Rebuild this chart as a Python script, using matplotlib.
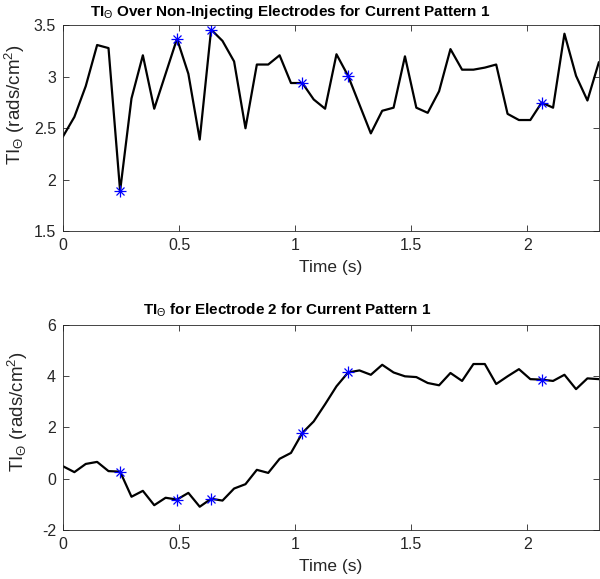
import matplotlib
matplotlib.use("Agg")
import matplotlib.pyplot as plt

plt.rcParams['font.family'] = ['Liberation Sans', 'DejaVu Sans']
plt.rcParams['mathtext.fontset'] = 'custom'
plt.rcParams['mathtext.rm'] = 'Liberation Sans'
plt.rcParams['mathtext.it'] = 'Liberation Sans'
plt.rcParams['mathtext.bf'] = 'Liberation Sans:bold'

# sample times (s)
time = [0.0, 0.049, 0.098, 0.147, 0.196, 0.246, 0.295, 0.344, 0.393, 0.442,
        0.491, 0.540, 0.589, 0.638, 0.687, 0.737, 0.786, 0.835, 0.884, 0.933,
        0.982, 1.031, 1.080, 1.129, 1.178, 1.228, 1.277, 1.326, 1.375, 1.424,
        1.473, 1.522, 1.571, 1.620, 1.669, 1.719, 1.768, 1.817, 1.866, 1.915,
        1.964, 2.013, 2.062, 2.111, 2.160, 2.210, 2.259, 2.308]

# TI over non-injecting electrodes
ti_avg = [2.42, 2.61, 2.91, 3.31, 3.28, 1.89, 2.79, 3.21, 2.69, 3.03,
          3.37, 3.03, 2.39, 3.46, 3.35, 3.15, 2.50, 3.12, 3.12, 3.21,
          2.94, 2.94, 2.78, 2.69, 3.22, 3.01, 2.73, 2.45, 2.67, 2.70,
          3.20, 2.70, 2.65, 2.86, 3.27, 3.07, 3.07, 3.09, 3.12, 2.64,
          2.58, 2.58, 2.75, 2.70, 3.42, 3.01, 2.77, 3.14]

# TI for electrode 2
ti_e2 = [0.48, 0.25, 0.57, 0.65, 0.29, 0.27, -0.71, -0.48, -1.04, -0.75,
         -0.82, -0.56, -1.10, -0.79, -0.86, -0.39, -0.22, 0.34, 0.22, 0.77,
         1.00, 1.78, 2.23, 2.90, 3.60, 4.14, 4.22, 4.05, 4.44, 4.14,
         3.99, 3.96, 3.73, 3.64, 4.12, 3.81, 4.47, 4.47, 3.69, 3.99,
         4.27, 3.88, 3.86, 3.81, 4.05, 3.49, 3.91, 3.88]

# indices of the marked samples
marks = [5, 10, 13, 21, 25, 42]

fig = plt.figure(figsize=(6.0, 5.79), dpi=100)
ax1 = fig.add_axes([0.105, 0.601, 0.893, 0.355])
ax2 = fig.add_axes([0.105, 0.085, 0.893, 0.354])

gray = '#262626'
panels = [
    (ax1, ti_avg, r'TI$_\Theta$ Over Non-Injecting Electrodes for Current Pattern 1',
     (1.5, 3.5), [1.5, 2, 2.5, 3, 3.5], 0.424, (-0.068, 0.614)),
    (ax2, ti_e2, r'TI$_\Theta$ for Electrode 2 for Current Pattern 1',
     (-2, 6), [-2, 0, 2, 4, 6], 0.418, (-0.062, 0.578)),
]

for ax, vals, title, ylim, yticks, tx, ylab_pos in panels:
    ax.plot(time, vals, color='black', lw=1.6)
    mx = [time[i] for i in marks]
    my = [vals[i] for i in marks]
    # matlab-style asterisk: plus + cross
    ax.plot(mx, my, ls='none', marker='+', ms=8, color='blue', markeredgewidth=0.9)
    ax.plot(mx, my, ls='none', marker='x', ms=6, color='blue', markeredgewidth=0.9)
    ax.set_xlim(0, time[-1])
    ax.set_ylim(*ylim)
    ax.set_yticks(yticks)
    ax.set_yticklabels([('%g' % v) for v in yticks])
    ax.set_xticks([0, 0.5, 1, 1.5, 2])
    ax.set_xticklabels(['0', '0.5', '1', '1.5', '2'])
    ax.tick_params(direction='in', top=True, right=True, length=4, pad=5,
                   labelsize=11.5, colors=gray, width=0.6)
    for s in ax.spines.values():
        s.set_color(gray)
        s.set_linewidth(0.6)
    ax.set_title(title, fontsize=11, fontweight='bold', color='black', pad=7, x=tx)
    ax.set_xlabel('Time (s)', fontsize=12.5, color=gray, labelpad=5)
    ax.set_ylabel(r'TI$_\Theta$ (rads/cm$^2$)', fontsize=13.5, color=gray)
    ax.yaxis.set_label_coords(*ylab_pos)

fig.savefig('out.png', dpi=100)
